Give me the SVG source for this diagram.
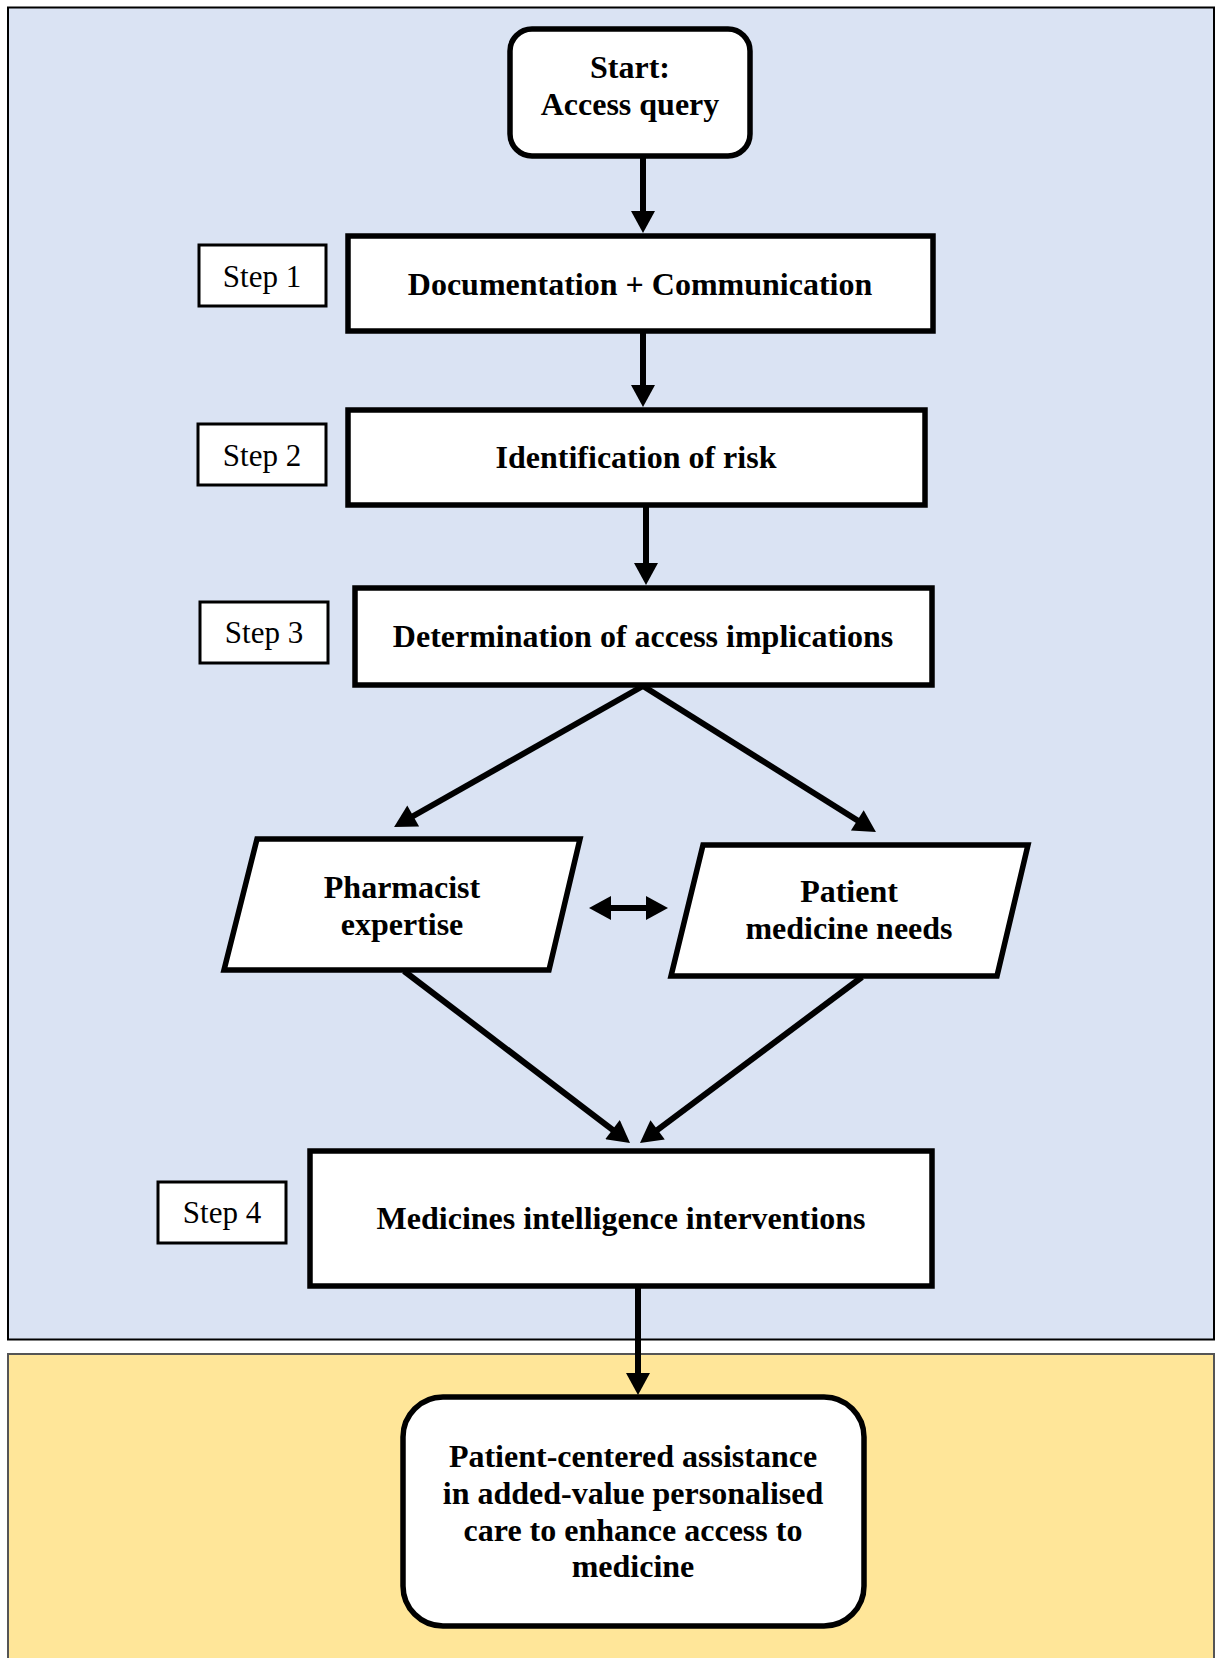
<svg xmlns="http://www.w3.org/2000/svg" width="1216" height="1658" viewBox="0 0 1216 1658">
<style>
.t{font-family:"Liberation Serif","Times New Roman",serif;font-size:32px;font-weight:bold;fill:#000;text-anchor:middle}
.s{font-family:"Liberation Serif","Times New Roman",serif;font-size:31px;fill:#000;text-anchor:middle}
.box{fill:#fff;stroke:#000;stroke-width:5.5}
.step{fill:#fff;stroke:#000;stroke-width:3}
.c{stroke:#000;stroke-width:6;fill:none}
</style>
<defs>
<marker id="ah" markerUnits="userSpaceOnUse" markerWidth="24" markerHeight="24" viewBox="0 0 22 24" refX="6" refY="12" orient="auto-start-reverse">
<path d="M0,0 L22,12 L0,24 Z" fill="#000"/>
</marker>
</defs>
<g id="panels">
<rect x="8" y="7.5" width="1206" height="1332" fill="#DAE3F3" stroke="#000" stroke-width="2"/>
<rect x="8" y="1354" width="1206" height="310" fill="#FFE699" stroke="#555" stroke-width="2"/>
</g>
<g id="connectors">
<line class="c" x1="643" y1="157" x2="643" y2="217" marker-end="url(#ah)"/>
<line class="c" x1="643" y1="332" x2="643" y2="391" marker-end="url(#ah)"/>
<line class="c" x1="646" y1="506" x2="646" y2="569" marker-end="url(#ah)"/>
<line class="c" x1="643" y1="686" x2="408" y2="819" marker-end="url(#ah)"/>
<line class="c" x1="643" y1="686" x2="862.4" y2="823.5" marker-end="url(#ah)"/>
<line class="c" x1="404" y1="971" x2="617.3" y2="1133.3" marker-end="url(#ah)"/>
<line class="c" x1="862" y1="977" x2="652.8" y2="1133.4" marker-end="url(#ah)"/>
<line class="c" x1="638" y1="1287" x2="638" y2="1379" marker-end="url(#ah)"/>
<line class="c" x1="605" y1="908" x2="652" y2="908" marker-start="url(#ah)" marker-end="url(#ah)"/>
</g>
<g id="start">
<rect class="box" x="510" y="29" width="240" height="127" rx="22"/>
<text class="t" x="630" y="78">Start:</text>
<text class="t" x="630" y="115">Access query</text>
</g>
<g id="step1">
<rect class="step" x="199" y="245" width="127" height="61"/>
<text class="s" x="262" y="287">Step 1</text>
</g>
<g id="doc">
<rect class="box" x="348" y="236" width="585" height="95"/>
<text class="t" x="640" y="295">Documentation + Communication</text>
</g>
<g id="step2">
<rect class="step" x="198" y="424" width="128" height="61"/>
<text class="s" x="262" y="466">Step 2</text>
</g>
<g id="ident">
<rect class="box" x="348" y="410" width="577" height="95"/>
<text class="t" x="636" y="468">Identification of risk</text>
</g>
<g id="step3">
<rect class="step" x="200" y="602" width="128" height="61"/>
<text class="s" x="264" y="643">Step 3</text>
</g>
<g id="determ">
<rect class="box" x="355" y="588" width="577" height="97"/>
<text class="t" x="643" y="647">Determination of access implications</text>
</g>
<g id="pharm">
<polygon class="box" points="257,839 580,839 549,970 224,970"/>
<text class="t" x="402" y="898">Pharmacist</text>
<text class="t" x="402" y="935">expertise</text>
</g>
<g id="patient">
<polygon class="box" points="703,845 1028,845 997,976 671,976"/>
<text class="t" x="849" y="902">Patient</text>
<text class="t" x="849" y="939">medicine needs</text>
</g>
<g id="step4">
<rect class="step" x="158" y="1182" width="128" height="61"/>
<text class="s" x="222" y="1223">Step 4</text>
</g>
<g id="med">
<rect class="box" x="310" y="1151" width="622" height="135"/>
<text class="t" x="621" y="1229">Medicines intelligence interventions</text>
</g>
<g id="final">
<rect class="box" x="403" y="1397" width="461" height="229" rx="40"/>
<text class="t" x="633" y="1467">Patient-centered assistance</text>
<text class="t" x="633" y="1504">in added-value personalised</text>
<text class="t" x="633" y="1541">care to enhance access to</text>
<text class="t" x="633" y="1577">medicine</text>
</g>
</svg>
